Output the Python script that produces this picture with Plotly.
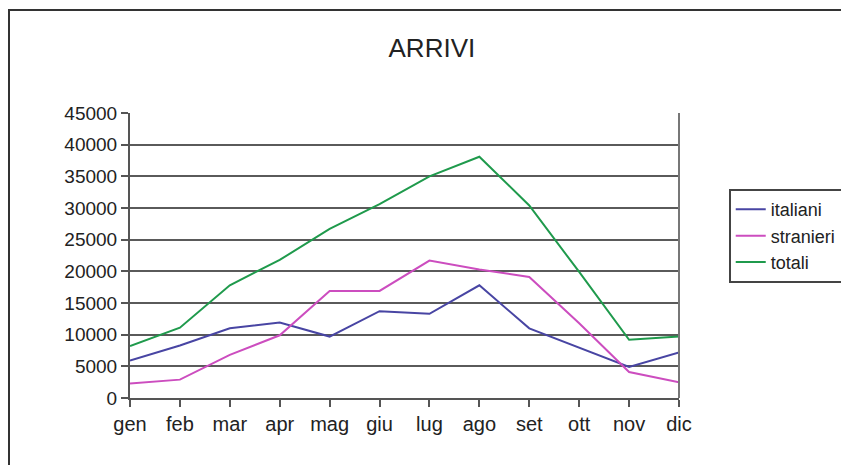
import plotly.graph_objects as go

months = ["gen", "feb", "mar", "apr", "mag", "giu", "lug", "ago", "set", "ott", "nov", "dic"]
italiani = [5900, 8300, 11000, 11900, 9700, 13700, 13300, 17800, 11000, 8000, 4900, 7200]
stranieri = [2300, 2900, 6800, 9900, 16900, 16900, 21700, 20300, 19100, 11800, 4100, 2500]
totali = [8200, 11100, 17800, 21800, 26700, 30600, 35000, 38100, 30400, 19900, 9200, 9700]
y_ticks = [0, 5000, 10000, 15000, 20000, 25000, 30000, 35000, 40000, 45000]

series = [("italiani", italiani, "#4845a3"), ("stranieri", stranieri, "#cc4dbf"), ("totali", totali, "#1f9a4c")]

fig = go.Figure()
for name, vals, col in series:
    fig.add_trace(go.Scatter(x=months, y=vals, mode="lines", name=name,
                             line=dict(color=col, width=2)))

fig.update_layout(
    width=841, height=457,
    margin=dict(l=122, r=170, t=105, b=67),
    paper_bgcolor="white", plot_bgcolor="white",
    font=dict(family="Liberation Sans, Arial, sans-serif", size=19, color="#222"),
    title=dict(text="ARRIVI", x=0.504, xanchor="center", y=0.9125, yanchor="middle",
               font=dict(size=26, color="#222")),
    showlegend=True,
    legend=dict(xref="container", yref="container",
                x=0.857, xanchor="left", y=0.501, yanchor="middle",
                bordercolor="#444", borderwidth=2, bgcolor="white",
                font=dict(size=18, color="#222"), itemwidth=30,
                tracegroupgap=0),
    shapes=[dict(type="rect", xref="paper", yref="paper",
                 x0=-0.2204, x1=1.6, y0=-0.6, y1=1.3614,
                 line=dict(color="#333", width=2), layer="below")],
)
fig.update_xaxes(type="category", range=[0, 11], showgrid=False,
                 showline=True, linecolor="#555", linewidth=2,
                 ticks="outside", ticklen=7, tickcolor="#555", tickwidth=2,
                 tickfont=dict(size=20), zeroline=False)
fig.update_yaxes(range=[0, 45000], tickvals=y_ticks, ticktext=[str(v) for v in y_ticks],
                 showgrid=True, gridcolor="#5a5a5a", gridwidth=2,
                 showline=True, linecolor="#555", linewidth=2,
                 ticks="outside", ticklen=7, tickcolor="#555", tickwidth=2,
                 tickfont=dict(size=19), zeroline=False)
# right border of plot area
fig.add_shape(type="line", xref="paper", yref="paper", x0=1, x1=1, y0=0, y1=1,
              line=dict(color="#777", width=2))

fig.write_html("out.html")
